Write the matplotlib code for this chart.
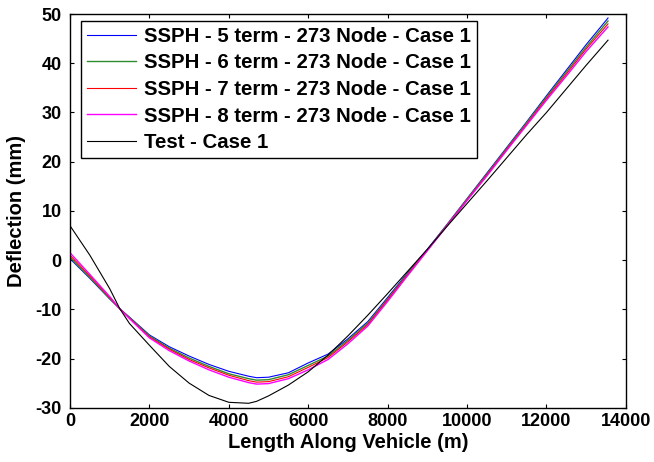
import matplotlib
matplotlib.use("Agg")
import matplotlib.pyplot as plt

plt.rcParams['font.family'] = ['Liberation Sans', 'DejaVu Sans']
plt.rcParams['font.weight'] = 'bold'
plt.rcParams['axes.unicode_minus'] = False

# position along vehicle (m)
x = [0, 500, 1000, 1256, 1500, 2000, 2500, 3000, 3500, 4000, 4500, 4700, 5000,
     5500, 6000, 6500, 7000, 7500, 8000, 8500, 9000, 9500, 10000, 10500,
     11000, 11500, 12000, 12500, 13000, 13550]

# SSPH deflections (mm)
ssph5 = [0.3, -3.7, -7.9, -9.9, -11.6, -15.2, -17.6, -19.5, -21.2, -22.6, -23.6, -23.9, -23.8,
         -22.9, -20.9, -19.1, -16.0, -12.5, -7.6, -2.6, 2.2, 7.3, 12.5, 17.7,
         22.9, 28.1, 33.4, 38.6, 43.8, 49.2]
ssph6 = [0.6, -3.5, -7.8, -9.9, -11.7, -15.4, -17.9, -19.9, -21.6, -23.1, -24.1, -24.4, -24.3,
         -23.3, -21.4, -19.5, -16.3, -12.8, -7.9, -2.8, 2.1, 7.2, 12.4, 17.5,
         22.7, 27.9, 33.1, 38.2, 43.3, 48.6]
ssph7 = [1.0, -3.2, -7.6, -9.9, -11.8, -15.6, -18.1, -20.2, -21.9, -23.4, -24.5, -24.8, -24.7,
         -23.7, -21.8, -19.8, -16.6, -13.1, -8.1, -3.0, 2.0, 7.1, 12.2, 17.3,
         22.5, 27.6, 32.8, 37.8, 42.9, 48.0]
ssph8 = [1.5, -2.9, -7.4, -9.9, -11.9, -15.8, -18.4, -20.5, -22.3, -23.8, -24.9, -25.2, -25.1,
         -24.1, -22.3, -20.2, -17.0, -13.4, -8.4, -3.2, 1.9, 7.0, 12.1, 17.1,
         22.3, 27.4, 32.5, 37.4, 42.4, 47.4]

# test measurement (mm)
test = [7.0, 1.0, -5.8, -9.9, -12.9, -17.3, -21.6, -25.0, -27.5, -28.9, -29.1, -28.7, -27.6,
        -25.4, -22.7, -19.3, -15.4, -11.2, -6.8, -2.3, 2.2, 6.9, 11.5, 16.1,
        20.8, 25.5, 30.0, 34.8, 39.6, 44.7]

labels = ["SSPH - 5 term - 273 Node - Case 1",
          "SSPH - 6 term - 273 Node - Case 1",
          "SSPH - 7 term - 273 Node - Case 1",
          "SSPH - 8 term - 273 Node - Case 1",
          "Test - Case 1"]

fig = plt.figure(figsize=(6.54, 4.62), dpi=100)
ax = fig.add_axes([0.107, 0.1175, 0.850, 0.852])

ax.plot(x, ssph5, color='#0000ff', lw=0.8, label=labels[0])
ax.plot(x, ssph6, color='#2e8b2e', lw=1.0, label=labels[1])
ax.plot(x, ssph7, color='#ff0000', lw=0.8, label=labels[2])
ax.plot(x, ssph8, color='#ff00ff', lw=1.0, label=labels[3])
ax.plot(x, test, color='black', lw=0.8, label=labels[4])

ax.set_xlim(0, 14000)
ax.set_ylim(-30, 50)
ax.set_xticks(range(0, 14001, 2000))
ax.set_yticks(range(-30, 51, 10))
ax.tick_params(direction='in', top=True, right=True, labelsize=13, length=3, width=0.8)
ax.tick_params(axis='x', pad=4)
ax.tick_params(axis='y', pad=6)
for lab in ax.get_xticklabels() + ax.get_yticklabels():
    lab.set_fontweight('bold')
for s in ax.spines.values():
    s.set_linewidth(1.0)

ax.set_xlabel("Length Along Vehicle (m)", fontsize=14.5, fontweight='bold', labelpad=2)
ax.set_ylabel("Deflection (mm)", fontsize=14.5, fontweight='bold', labelpad=7)

leg = ax.legend(loc='upper left', bbox_to_anchor=(0.019, 0.983), fontsize=14.7,
                frameon=True, fancybox=False, edgecolor='black', framealpha=1,
                handlelength=2.4, handletextpad=0.4, labelspacing=0.37,
                borderpad=0.3, borderaxespad=0)
leg.get_frame().set_linewidth(1.0)
for t in leg.get_texts():
    t.set_fontweight('bold')

fig.savefig("out.png", dpi=100)
